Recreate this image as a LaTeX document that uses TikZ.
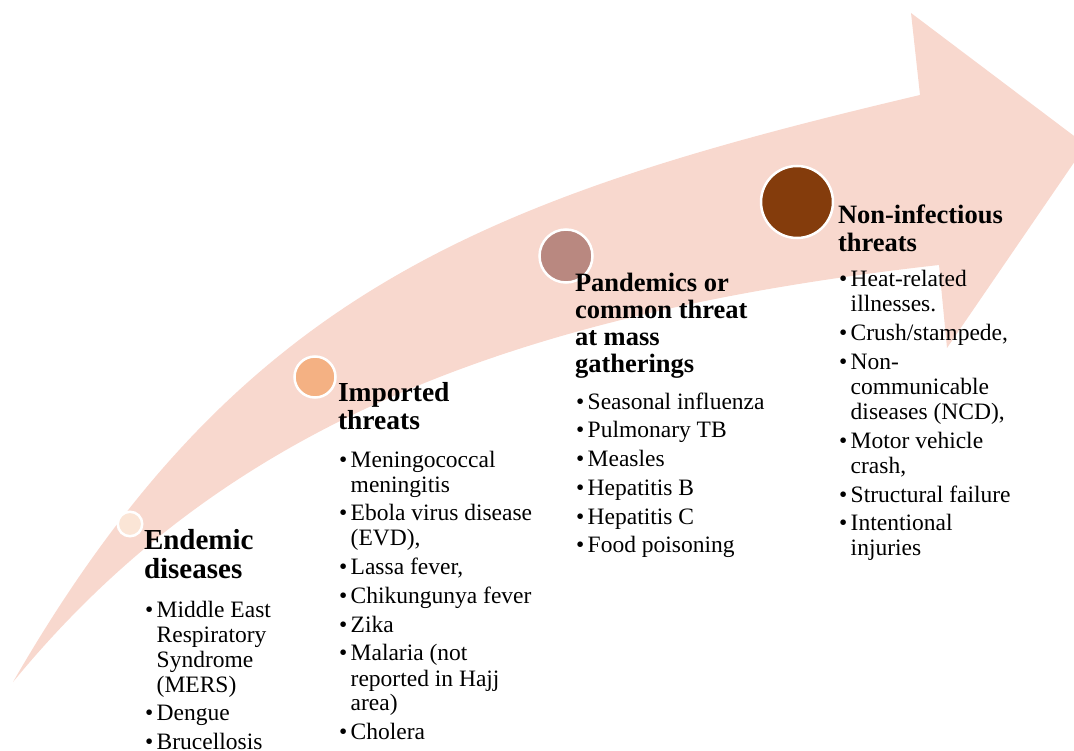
\documentclass[tikz,border=0pt]{standalone}
\usepackage{fontspec}
\setmainfont{Liberation Serif}
\definecolor{arrowpink}{RGB}{248,216,206}
\definecolor{dotpale}{RGB}{251,229,214}
\definecolor{dotpeach}{RGB}{244,177,131}
\definecolor{dotmauve}{RGB}{185,136,128}
\definecolor{dotbrown}{RGB}{132,60,12}
\newcommand{\headlines}[1]{\begin{tabular}[t]{@{}l@{}}#1\end{tabular}}
\newcommand{\threatlist}[1]{\begin{tabular}[t]{@{}l@{\hspace{3.5pt}}l@{}}#1\end{tabular}}
\newcommand{\nxt}{\\[3.8pt]\textbullet &}

\begin{document}
\begin{tikzpicture}[x=1pt, y=-1pt,
  every node/.style = {inner sep=0pt, outer sep=0pt},
  dot/.style = {circle, draw=white, line width=2.5pt},
  head/.style = {anchor=base west, font=\bfseries\fontsize{26.5}{28}\selectfont},
  items/.style = {anchor=base west, font=\fontsize{23.5}{25}\selectfont}]
  \useasboundingbox (0,0) rectangle (1074,751);
  % the curved arrow
  \fill[arrowpink] (13,682) .. controls (238,292) and (483,198) .. (920,95)
    -- (911,13) -- (1086,145) -- (947,348) -- (939,265)
    .. controls (493,315) and (215,436) .. (13,682) -- cycle;
  % dots along the arrow
  \node[dot, fill=dotpale, minimum size=24.5pt] (dotendemic) at (130,524) {};
  \node[dot, fill=dotpeach, minimum size=41pt] (dotimported) at (315,377) {};
  \node[dot, fill=dotmauve, minimum size=53pt] (dotpandemic) at (566,256) {};
  \node[dot, fill=dotbrown, minimum size=72pt] (dotnoninf) at (797,202) {};
  % headings
  \node[head, font=\bfseries\fontsize{29}{29.5}\selectfont] (endemic) at (144,549)
    {\headlines{Endemic\\diseases}};
  \node[head, font=\bfseries\fontsize{27.5}{28}\selectfont] (imported) at (338,402)
    {\headlines{Imported\\threats}};
  \node[head, font=\bfseries\fontsize{26.5}{27}\selectfont] (pandemic) at (575,292)
    {\headlines{Pandemics or\\common threat\\at mass\\gatherings}};
  \node[head] (noninf) at (838,224)
    {\headlines{Non-infectious\\threats}};
  % lists
  \node[items] (endemiclist) at (145,617) {\threatlist{\textbullet & Middle East\\
    & Respiratory\\ & Syndrome\\ & (MERS)\nxt Dengue\nxt Brucellosis}};
  \node[items] (importedlist) at (339,467) {\threatlist{\textbullet & Meningococcal\\
    & meningitis\nxt Ebola virus disease\\ & (EVD),\nxt Lassa fever,\nxt Chikungunya fever
    \nxt Zika\nxt Malaria (not\\ & reported in Hajj\\ & area)\nxt Cholera}};
  \node[items] (pandemiclist) at (576,409) {\threatlist{\textbullet & Seasonal influenza
    \nxt Pulmonary TB\nxt Measles\nxt Hepatitis B\nxt Hepatitis C\nxt Food poisoning}};
  \node[items] (noninflist) at (839,287) {\threatlist{\textbullet & Heat-related\\
    & illnesses.\nxt Crush/stampede,\nxt Non-\\ & communicable\\ & diseases (NCD),
    \nxt Motor vehicle\\ & crash,\nxt Structural failure\nxt Intentional\\ & injuries}};
\end{tikzpicture}
\end{document}
